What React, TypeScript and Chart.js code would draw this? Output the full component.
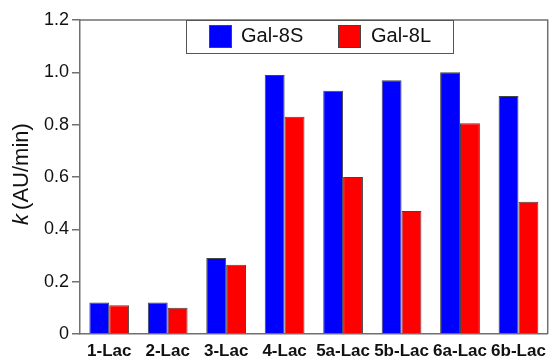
import React, { useEffect, useRef } from "react";
import { Chart, registerables } from "chart.js";

Chart.register(...registerables);

const categories = ["1-Lac", "2-Lac", "3-Lac", "4-Lac", "5a-Lac", "5b-Lac", "6a-Lac", "6b-Lac"];
const gal8S = [0.12, 0.12, 0.29, 0.99, 0.93, 0.97, 1.0, 0.91];
const gal8L = [0.11, 0.1, 0.265, 0.83, 0.6, 0.47, 0.805, 0.505];
const seriesNames = ["Gal-8S", "Gal-8L"];
const seriesColors = ["#0000ff", "#ff0000"];
const yTicks = [0, 0.2, 0.4, 0.6, 0.8, 1.0, 1.2];

const FONT = '"Liberation Sans", Arial, sans-serif';
const AXIS = "#707070";

const framePlugin = {
  id: "frame",
  afterDraw(chart: any) {
    const { ctx, chartArea } = chart;
    ctx.save();
    ctx.strokeStyle = AXIS;
    ctx.lineWidth = 1.5;
    ctx.beginPath();
    ctx.moveTo(chartArea.left, chartArea.top);
    ctx.lineTo(chartArea.right, chartArea.top);
    ctx.lineTo(chartArea.right, chartArea.bottom);
    ctx.stroke();

    const bx = 186, by = chartArea.top, bw = 267, bh = 33;
    ctx.fillStyle = "#ffffff";
    ctx.fillRect(bx, by, bw, bh);
    ctx.strokeStyle = "#555555";
    ctx.lineWidth = 1;
    ctx.strokeRect(bx + 0.5, by + 0.5, bw, bh);
    const swX = [209, 338];
    const txX = [241, 371];
    ctx.font = `20px ${FONT}`;
    ctx.textBaseline = "middle";
    ctx.textAlign = "left";
    for (let i = 0; i < 2; i++) {
      ctx.fillStyle = seriesColors[i];
      ctx.fillRect(swX[i], by + 5, 22, 22);
      ctx.strokeStyle = "#444444";
      ctx.strokeRect(swX[i] + 0.5, by + 5.5, 22, 22);
      ctx.fillStyle = "#111111";
      ctx.fillText(seriesNames[i], txX[i], by + 16);
    }

    ctx.translate(28, 174);
    ctx.rotate(-Math.PI / 2);
    ctx.textBaseline = "alphabetic";
    ctx.fillStyle = "#111111";
    ctx.font = `italic 22px ${FONT}`;
    const kW = ctx.measureText("k").width;
    ctx.font = `22px ${FONT}`;
    const rest = "(AU/min)";
    const rW = ctx.measureText(rest).width;
    const gap = 4;
    const total = kW + gap + rW;
    const x0 = -total / 2;
    ctx.font = `italic 22px ${FONT}`;
    ctx.fillText("k", x0, 0);
    ctx.font = `22px ${FONT}`;
    ctx.fillText(rest, x0 + kW + gap, 0);
    ctx.restore();
  },
};

export default function App() {
  const ref = useRef<HTMLCanvasElement>(null);
  useEffect(() => {
    if (!ref.current) return;
    const chart = new Chart(ref.current, {
      type: "bar",
      data: {
        labels: categories,
        datasets: [
          {
            label: seriesNames[0],
            data: gal8S,
            backgroundColor: seriesColors[0],
            borderColor: "#444444",
            borderWidth: 1,
            categoryPercentage: 0.68,
            barPercentage: 1.0,
          },
          {
            label: seriesNames[1],
            data: gal8L,
            backgroundColor: seriesColors[1],
            borderColor: "#444444",
            borderWidth: 1,
            categoryPercentage: 0.68,
            barPercentage: 1.0,
          },
        ],
      },
      options: {
        responsive: false,
        animation: false,
        layout: { padding: { top: 20, right: 2, left: 0, bottom: 0 } },
        plugins: { legend: { display: false }, tooltip: { enabled: false } },
        scales: {
          x: {
            grid: { display: false, drawTicks: false },
            border: { color: AXIS, width: 1.5 },
            ticks: {
              color: "#111111",
              font: { family: FONT, size: 17, weight: "bold" },
              padding: 7,
              maxRotation: 0,
              autoSkip: false,
            },
            afterFit(scale: any) {
              scale.height = 27;
            },
          },
          y: {
            min: 0,
            max: 1.2,
            afterBuildTicks(scale: any) {
              scale.ticks = yTicks.map((v) => ({ value: v }));
            },
            grid: { drawOnChartArea: false, drawTicks: true, tickLength: 8, color: AXIS, lineWidth: 1.5 },
            border: { color: AXIS, width: 1.5 },
            ticks: {
              color: "#111111",
              font: { family: FONT, size: 18 },
              padding: 3,
              callback: (v: any) => (Number(v) === 0 ? "0" : Number(v).toFixed(1)),
            },
            afterFit(scale: any) {
              scale.width = 80;
            },
          },
        },
      },
      plugins: [framePlugin],
    });
    return () => chart.destroy();
  }, []);
  return (
    <div style={{ position: "absolute", left: 0, top: 0, width: 553, height: 361, background: "#fff" }}>
      <canvas ref={ref} width={553} height={361} style={{ display: "block" }} />
    </div>
  );
}
